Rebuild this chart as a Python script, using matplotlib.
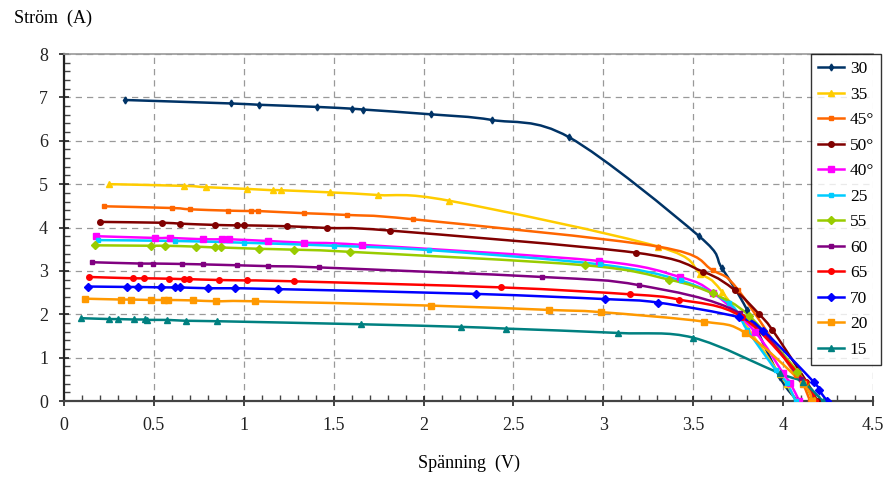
import numpy as np
import matplotlib
matplotlib.use("Agg")
import matplotlib.pyplot as plt
from matplotlib.path import Path
from matplotlib.patches import PathPatch
from matplotlib.ticker import MultipleLocator, FormatStrFormatter

plt.rcParams['font.family'] = ['Liberation Serif', 'DejaVu Serif']

#I-V measurements, one series per angle (spanning V, current A)
v30 = [0.34, 0.93, 1.085, 1.41, 1.60, 1.665, 2.04, 2.38, 2.81, 3.53, 3.66, 3.80, 3.98, 4.08]
i30 = [6.94, 6.86, 6.83, 6.78, 6.74, 6.72, 6.61, 6.48, 6.08, 3.81, 3.06, 2.10, 0.56, 0.0]

v35 = [0.25, 0.67, 0.79, 1.02, 1.16, 1.205, 1.48, 1.745, 2.14, 3.305, 3.54, 3.66, 3.98, 4.02, 4.07]
i35 = [5.00, 4.96, 4.93, 4.89, 4.86, 4.86, 4.81, 4.75, 4.62, 3.56, 2.94, 2.52, 0.62, 0.40, 0.0]

v45 = [0.22, 0.60, 0.70, 0.91, 1.04, 1.08, 1.336, 1.572, 1.943, 3.305, 3.61, 3.75, 4.07, 4.11, 4.15]
i45 = [4.49, 4.45, 4.42, 4.39, 4.38, 4.38, 4.33, 4.29, 4.19, 3.56, 3.01, 2.56, 0.60, 0.40, 0.0]

v50 = [0.20, 0.547, 0.643, 0.838, 0.96, 1.0, 1.239, 1.461, 1.813, 3.18, 3.556, 3.73, 3.867, 3.94, 4.13, 4.19]
i50 = [4.13, 4.11, 4.09, 4.06, 4.05, 4.05, 4.03, 3.99, 3.93, 3.42, 2.98, 2.56, 2.00, 1.64, 0.45, 0.0]

v40 = [0.18, 0.506, 0.591, 0.771, 0.881, 0.916, 1.133, 1.336, 1.66, 2.975, 3.426, 3.61, 3.843, 4.0, 4.04, 4.09]
i40 = [3.80, 3.76, 3.76, 3.73, 3.73, 3.73, 3.69, 3.65, 3.60, 3.23, 2.86, 2.50, 1.60, 0.64, 0.41, 0.0]

v25 = [0.19, 0.62, 1.0, 1.5, 2.03, 2.98, 3.43, 3.70, 3.80, 3.96, 4.02, 4.07]
i25 = [3.71, 3.69, 3.65, 3.58, 3.48, 3.15, 2.78, 2.25, 1.64, 0.71, 0.42, 0.0]

v55 = [0.172, 0.482, 0.564, 0.734, 0.84, 0.873, 1.083, 1.277, 1.589, 2.898, 3.365, 3.608, 3.81, 4.08, 4.12, 4.17]
i55 = [3.59, 3.58, 3.58, 3.56, 3.54, 3.54, 3.51, 3.49, 3.44, 3.13, 2.80, 2.48, 1.97, 0.68, 0.41, 0.0]

v60 = [0.154, 0.423, 0.497, 0.654, 0.775, 0.96, 1.136, 1.42, 2.66, 3.20, 3.76, 4.10, 4.18]
i60 = [3.20, 3.17, 3.17, 3.16, 3.15, 3.13, 3.11, 3.08, 2.86, 2.67, 2.02, 0.50, 0.0]

v65 = [0.139, 0.382, 0.447, 0.584, 0.667, 0.693, 0.862, 1.02, 1.279, 2.43, 3.15, 3.42, 3.77, 4.12, 4.18]
i65 = [2.86, 2.83, 2.83, 2.82, 2.81, 2.81, 2.79, 2.78, 2.76, 2.62, 2.46, 2.34, 1.94, 0.45, 0.0]

v70 = [0.132, 0.352, 0.413, 0.541, 0.619, 0.643, 0.803, 0.951, 1.19, 2.29, 3.01, 3.305, 3.756, 3.89, 4.17, 4.20, 4.245]
i70 = [2.64, 2.63, 2.63, 2.62, 2.62, 2.62, 2.60, 2.60, 2.58, 2.47, 2.35, 2.27, 1.93, 1.62, 0.44, 0.25, 0.0]

v20 = [0.117, 0.317, 0.371, 0.484, 0.558, 0.577, 0.716, 0.847, 1.06, 2.04, 2.70, 2.985, 3.56, 3.79, 4.11, 4.16]
i20 = [2.36, 2.34, 2.34, 2.33, 2.33, 2.33, 2.32, 2.30, 2.30, 2.20, 2.10, 2.05, 1.83, 1.57, 0.40, 0.0]

v15 = [0.095, 0.252, 0.298, 0.389, 0.45, 0.463, 0.575, 0.679, 0.853, 1.652, 2.21, 2.46, 3.08, 3.50, 3.98, 4.11, 4.22]
i15 = [1.91, 1.89, 1.89, 1.88, 1.88, 1.87, 1.87, 1.85, 1.84, 1.77, 1.71, 1.67, 1.57, 1.46, 0.64, 0.44, 0.0]

labels = ["30", "35", "45°", "50°", "40°", "25", "55", "60", "65", "70", "20", "15"]
volts = [v30, v35, v45, v50, v40, v25, v55, v60, v65, v70, v20, v15]
amps = [i30, i35, i45, i50, i40, i25, i55, i60, i65, i70, i20, i15]
colors = ["#003366", "#FFCC00", "#FF6600", "#800000", "#FF00FF", "#00CCFF",
          "#99CC00", "#800080", "#FF0000", "#0000FF", "#FF9900", "#008080"]
markers = ["d", "^", "s", "o", "s", "s", "D", "s", "o", "D", "s", "^"]
msizes = [3.5, 4.5, 3, 4, 5, 3, 4.5, 3, 4, 4, 5, 4.5]


def smooth_path(x, y):
    #bezier segments through every point, like a smoothed line in a spreadsheet
    pts = np.column_stack([x, y])
    n = len(pts)
    verts = [pts[0]]
    codes = [Path.MOVETO]
    for k in range(n - 1):
        p0 = pts[k - 1] if k > 0 else pts[k]
        p1 = pts[k]
        p2 = pts[k + 1]
        p3 = pts[k + 2] if k + 2 < n else pts[k + 1]
        c1 = p1 + (p2 - p0) / 6.0
        c2 = p2 - (p3 - p1) / 6.0
        verts += [c1, c2, p2]
        codes += [Path.CURVE4] * 3
    return Path(verts, codes)


fig = plt.figure(figsize=(8.89, 4.78), dpi=100)
ax = fig.add_axes([0.072, 0.161, 0.910, 0.726])

for x, y, c, m, ms, lab in zip(volts, amps, colors, markers, msizes, labels):
    ax.add_patch(PathPatch(smooth_path(x, y), facecolor="none", edgecolor=c, lw=1.8, zorder=3))
    ax.plot(x, y, ls="none", marker=m, ms=ms, color=c, mec=c, zorder=4)
    # empty line just for the legend entry
    ax.plot([], [], color=c, lw=1.8, marker=m, ms=ms, mec=c, label=lab)

ax.set_xlim(0, 4.5)
ax.set_ylim(0, 8)
ax.xaxis.set_major_locator(MultipleLocator(0.5))
ax.xaxis.set_minor_locator(MultipleLocator(0.1))
ax.yaxis.set_major_locator(MultipleLocator(1))
ax.yaxis.set_minor_locator(MultipleLocator(0.2))
ax.xaxis.set_major_formatter(FormatStrFormatter("%g"))
ax.tick_params(which="major", direction="inout", length=7, width=1.2, labelsize=13, colors="#222222")
ax.tick_params(which="minor", direction="in", length=4, width=1.0, colors="#444444")
ax.tick_params(axis="x", pad=8)
ax.tick_params(axis="y", pad=8)

ax.grid(True, which="major", color="#999999", ls=(0, (5, 4)), lw=0.9)
ax.set_axisbelow(True)

ax.spines["right"].set_visible(False)
ax.spines["top"].set_color("#999999")
ax.spines["top"].set_linewidth(1.2)
ax.spines["left"].set_linewidth(1.6)
ax.spines["bottom"].set_linewidth(1.6)
ax.spines["left"].set_color("#222222")
ax.spines["bottom"].set_color("#444444")

leg = ax.legend(loc="upper left", bbox_to_anchor=(0.923, 1.0), fontsize=12.5,
                frameon=True, fancybox=False, handlelength=1.5, handletextpad=0.35,
                labelspacing=0.54, borderpad=0.4, borderaxespad=0)
leg.get_frame().set_edgecolor("black")
leg.get_frame().set_linewidth(1.0)

fig.text(14 / 889, 1 - 18 / 478, "Ström  (A)", fontsize=13, va="center", ha="left")
fig.text(469 / 889, 1 - 463 / 478, "Spänning  (V)", fontsize=13, va="center", ha="center")

fig.savefig("out.png", dpi=100)
